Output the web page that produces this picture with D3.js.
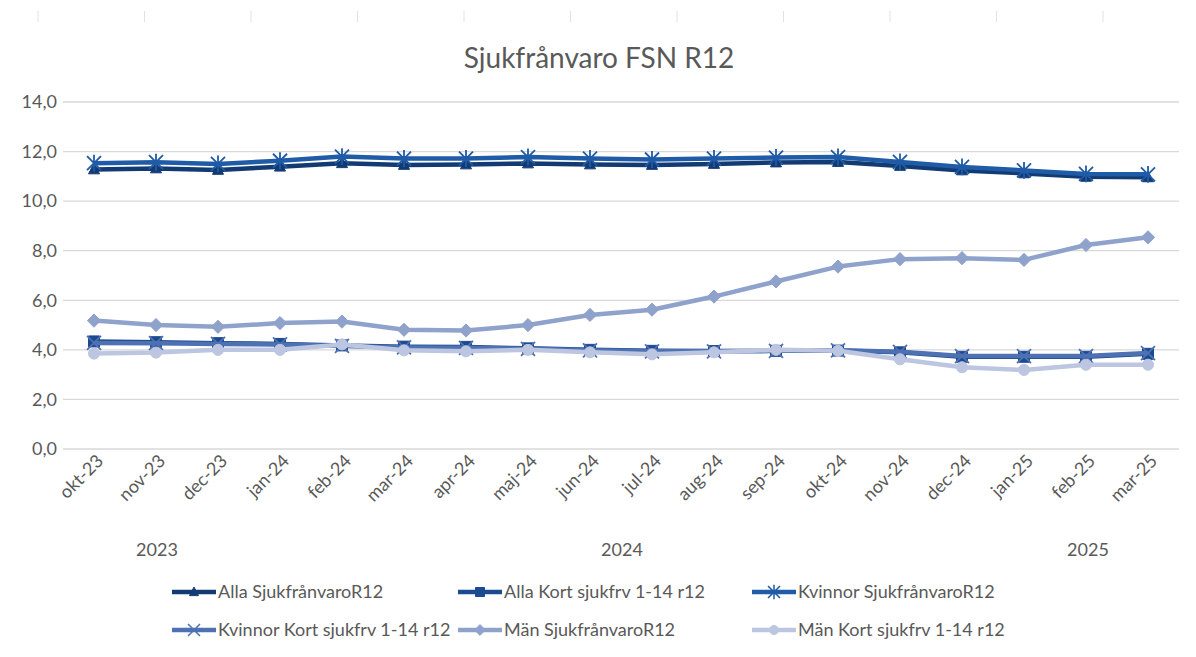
<!DOCTYPE html>
<html><head><meta charset="utf-8">
<script src="https://cdn.jsdelivr.net/npm/d3@7"></script>
<style>body{margin:0;background:#fff}svg{display:block}text{font-family:Lato,"Open Sans",sans-serif}</style>
</head><body>
<svg id="c" width="1196" height="657"></svg>
<script>
const months = ["okt-23","nov-23","dec-23","jan-24","feb-24","mar-24","apr-24","maj-24","jun-24","jul-24","aug-24","sep-24","okt-24","nov-24","dec-24","jan-25","feb-25","mar-25"];
const yearLabels = ["2023","2024","2025"];
const yTicks = [0,2,4,6,8,10,12,14];
const seriesNames = ["Alla SjukfrånvaroR12","Alla Kort sjukfrv 1-14 r12","Kvinnor SjukfrånvaroR12","Kvinnor Kort sjukfrv 1-14 r12","Män SjukfrånvaroR12","Män Kort sjukfrv 1-14 r12"];
const allaSjuk    = [11.28,11.32,11.26,11.39,11.53,11.46,11.48,11.52,11.48,11.46,11.50,11.56,11.58,11.42,11.24,11.12,10.98,10.96];
const allaKort    = [4.34,4.31,4.27,4.24,4.18,4.13,4.12,4.06,4.00,3.96,3.95,3.96,3.97,3.90,3.72,3.72,3.72,3.84];
const kvinnorSjuk = [11.53,11.57,11.50,11.63,11.80,11.72,11.72,11.78,11.72,11.68,11.72,11.76,11.78,11.58,11.38,11.24,11.10,11.08];
const kvinnorKort = [4.28,4.27,4.24,4.22,4.16,4.10,4.08,4.04,3.98,3.94,3.94,3.96,3.98,3.92,3.75,3.75,3.75,3.87];
const manSjuk     = [5.18,5.00,4.93,5.08,5.14,4.81,4.78,5.00,5.41,5.62,6.15,6.76,7.36,7.66,7.70,7.63,8.23,8.54];
const manKort     = [3.85,3.89,4.00,4.00,4.22,3.98,3.94,4.00,3.90,3.82,3.90,4.00,3.96,3.62,3.30,3.19,3.40,3.40];

const seriesData = [allaSjuk, allaKort, kvinnorSjuk, kvinnorKort, manSjuk, manKort];
const colors = ["#133b73","#1c4a8e","#1f5ba6","#4e71b4","#8fa2cc","#bcc6e0"];
const markers = ["triangle","square","asterisk","x","diamond","circle"];

const svg = d3.select("#c");
const x = d3.scalePoint().domain(months).range([94,1148]);
const y = d3.scaleLinear().domain([0,14]).range([449,102]);
const gridL = 63, gridR = 1179;
const txt = "#595959";

// faint top artifact ticks
const artX = d3.range(11).map(i => 38 + i*106.5);
svg.append("g").selectAll("line").data(artX).join("line")
  .attr("x1",d=>d).attr("x2",d=>d).attr("y1",11).attr("y2",22)
  .attr("stroke","#e2e2e2").attr("stroke-width",1);

// title
svg.append("text").attr("x",599).attr("y",68).attr("text-anchor","middle")
  .attr("font-size",28).attr("fill",txt).text("Sjukfrånvaro FSN R12");

// y axis + grid
const yAxis = d3.axisLeft(y).tickValues(yTicks).tickFormat(d => d3.format(".1f")(d).replace(".",",")).tickSize(0).tickPadding(6);
const yg = svg.append("g").attr("transform",`translate(${gridL},0)`).call(yAxis);
yg.select(".domain").remove();
yg.selectAll("text").attr("font-size",18).attr("fill",txt).attr("font-family","Lato");
svg.append("g").selectAll("line").data(yTicks).join("line")
  .attr("x1",gridL).attr("x2",gridR).attr("y1",d=>y(d)).attr("y2",d=>y(d))
  .attr("stroke","#d9d9d9").attr("stroke-width",1.3);

// x axis labels
const xAxis = d3.axisBottom(x).tickSize(0);
const xg = svg.append("g").attr("transform","translate(0,449)").call(xAxis);
xg.select(".domain").remove();
xg.selectAll("text").attr("font-size",18).attr("fill",txt).attr("font-family","Lato")
  .attr("text-anchor","end").attr("dy",null).attr("y",0)
  .attr("transform","translate(10,13) rotate(-45)");

// year labels
const yearX = {"2023":157, "2024":622, "2025":1088};
svg.append("g").selectAll("text").data(yearLabels).join("text")
  .attr("x",d => yearX[d])
  .attr("y",556).attr("text-anchor","middle").attr("font-size",18).attr("fill",txt)
  .text(d=>d);

function markerPath(type, s){
  const r = s/2;
  switch(type){
    case "triangle": return `M0,${-r*1.1}L${r},${r*0.8}L${-r},${r*0.8}Z`;
    case "square": return `M${-r},${-r}H${r}V${r}H${-r}Z`;
    case "diamond": return `M0,${-r*1.2}L${r*1.2},0L0,${r*1.2}L${-r*1.2},0Z`;
    case "circle": return d3.symbol(d3.symbolCircle, s*s*0.8)();
    case "x": return `M${-r},${-r}L${r},${r}M${-r},${r}L${r},${-r}`;
    case "asterisk": return `M${-r},${-r}L${r},${r}M${-r},${r}L${r},${-r}M0,${-r*1.2}V${r*1.2}`;
  }
}
const line = d3.line().x((d,i)=>x(months[i])).y(d=>y(d));

seriesData.forEach((vals, si) => {
  const g = svg.append("g");
  g.append("path").attr("d", line(vals)).attr("fill","none")
    .attr("stroke",colors[si]).attr("stroke-width",4.5).attr("stroke-linejoin","round");
  const open = markers[si]==="x" || markers[si]==="asterisk";
  g.selectAll("path.m").data(vals).join("path").attr("class","m")
    .attr("transform",(d,i)=>`translate(${x(months[i])},${y(d)})`)
    .attr("d", markerPath(markers[si], open ? 14 : 11))
    .attr("fill", open ? "none" : colors[si])
    .attr("stroke", colors[si]).attr("stroke-width", open ? 1.8 : 1);
});

// legend
const legendPos = [[172,592],[458,592],[752,592],[172,630],[458,630],[752,630]];
seriesNames.forEach((name, si) => {
  const [lx, ly] = legendPos[si];
  const g = svg.append("g").attr("transform",`translate(${lx},${ly})`);
  g.append("line").attr("x1",0).attr("x2",44).attr("y1",0).attr("y2",0)
    .attr("stroke",colors[si]).attr("stroke-width",4.5);
  const open = markers[si]==="x" || markers[si]==="asterisk";
  g.append("path").attr("transform","translate(22,0)")
    .attr("d", markerPath(markers[si], open ? 12 : 9))
    .attr("fill", open ? "none" : colors[si]).attr("stroke",colors[si]).attr("stroke-width", open?1.5:1);
  g.append("text").attr("x",46).attr("y",6.2).attr("font-size",18).attr("fill",txt).text(name);
});
</script>
</body></html>
